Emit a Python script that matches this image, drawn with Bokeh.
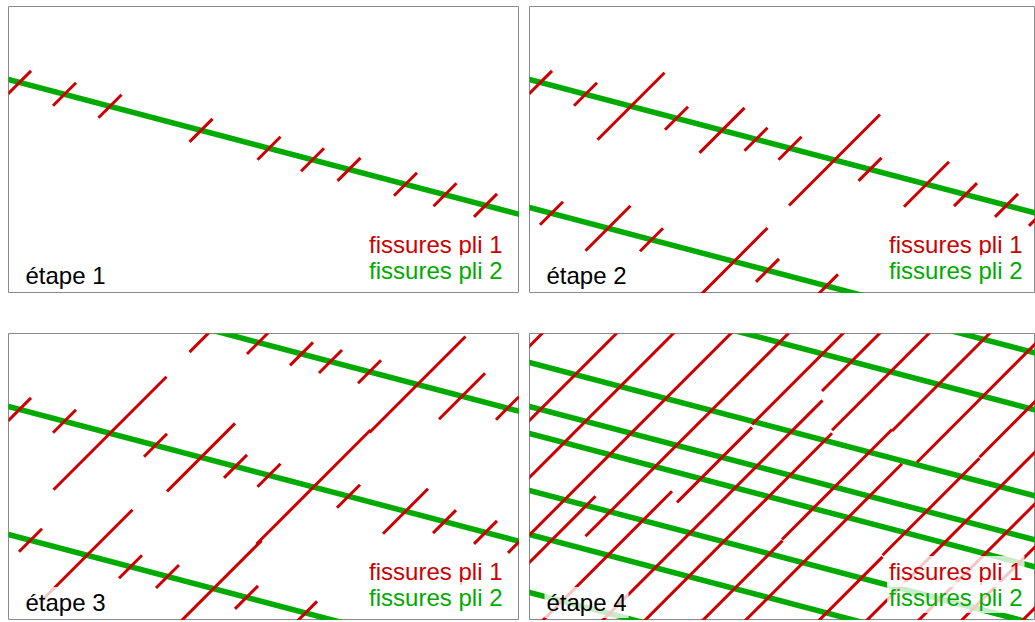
from bokeh.plotting import figure
from bokeh.layouts import row, column
from bokeh.models import Range1d, Label
from bokeh.embed import file_html
from bokeh.resources import INLINE

RED = "#cc0000"
GREEN = "#00aa00"
FONT = "Liberation Sans"

# ---- data (panel units = px inside each frame, y measured downwards) ----
ply2_slope = 0.264  # common slope of the ply-2 cracks

# ply-2 cracks (green): intercept at left edge, per stage
stage1_ply2 = [73]
stage2_ply2 = [73, 201]
stage3_ply2 = [-57, 73, 201]
stage4_ply2 = [-114, -57, 29, 73, 100, 157, 201, 259]

# ply-1 cracks (red, 45 deg): host ply-2 crack, position along it, extent down / up
stage1_host = [73] * 10
stage1_pos = [11, 56, 101.5, 192.5, 260.5, 304, 340.5, 397, 436.5, 477]
stage1_down = [11.5] * 10
stage1_up = [11.5] * 10

stage2_host = [73] * 13 + [201] * 6
stage2_pos = [11, 56, 101.5, 147, 192.5, 226.5, 260.5, 305, 340.5, 397, 436, 477, 511,
              22, 78.5, 122, 204.5, 238, 297]
stage2_down = [11.5, 11.5, 33.5, 11.5, 22.5, 11.5, 11.5, 45.5, 11.5, 22.5, 11.5, 11.5, 11.5,
               11.5, 22.5, 11.5, 33.5, 11.5, 11.5]
stage2_up = stage2_down

stage3_host = [-57] * 8 + [73] * 13 + [201] * 7
stage3_pos = [203, 250, 293, 322, 361, 409, 453.5, 499,
              11, 56, 101.5, 147, 192.5, 227, 260.5, 305, 340, 397, 436, 477, 511,
              22, 78.5, 122, 159, 205, 238, 297]
stage3_down = [22, 11.5, 11.5, 11.5, 11.5, 48, 23, 11.5,
               11.5, 11.5, 56.5, 11.5, 34, 11.5, 11.5, 57, 11.5, 22.5, 11.5, 11.5, 11.5,
               11.5, 45.5, 11.5, 11.5, 48, 11.5, 11.5]
stage3_up = stage3_down

stage4_host = [-57, 73, 73, 73, 201, 73, 201, 73, -57, 73, -57, 73, -57,
               201, 73, -57, 73, -57, 201, 73, -57, 73, 73, 73, 201]
stage4_pos = [55, 11, 56, 101.5, 22, 147, 78.5, 192.5, 293, 227, 322, 260.5, 361,
              205, 305, 409, 340, 453.5, 297, 397, 499, 436, 477, 511, 458]
stage4_down = [60, 20, 60, 105, 25, 91, 70, 45, 70.5, 160, 29.5, 146, 58.5,
               40, 52.5, 46.5, 125, 66, 12, 44, 49, 105, 90, 85, 20]
stage4_up = [5, 80, 95, 102, 44, 115, 64, 30, 25, 66, 32, 42, 42,
             48, 57.5, 55, 32.5, 60, 56, 53, 20, 75, 35, 5, 50]

stage_labels = ["étape 1", "étape 2", "étape 3", "étape 4"]
legend_texts = ["fissures pli 1", "fissures pli 2"]

PANEL_H = 287


def make_panel(width, ply2, host, pos, down, up, label, legend_x):
    p = figure(width=width, height=PANEL_H,
               x_range=Range1d(0, width), y_range=Range1d(PANEL_H, 0),
               x_axis_type=None, y_axis_type=None,
               output_backend="svg", toolbar_location=None, min_border=0)
    p.grid.visible = False
    p.outline_line_color = "#8a8a8a"
    p.outline_line_width = 1
    p.background_fill_color = "white"
    p.border_fill_color = "white"

    # green ply-2 cracks, spanning the whole frame
    x0 = [-30] * len(ply2)
    x1 = [width + 30] * len(ply2)
    y0 = [b + ply2_slope * (-30) for b in ply2]
    y1 = [b + ply2_slope * (width + 30) for b in ply2]
    p.segment(x0=x0, y0=y0, x1=x1, y1=y1, line_color=GREEN, line_width=5.5)

    # red ply-1 cracks at 45 degrees, centred on a ply-2 crack
    yc = [b + ply2_slope * xp for b, xp in zip(host, pos)]
    rx0 = [xp - d for xp, d in zip(pos, down)]
    ry0 = [y + d for y, d in zip(yc, down)]
    rx1 = [xp + u for xp, u in zip(pos, up)]
    ry1 = [y - u for y, u in zip(yc, up)]
    p.segment(x0=rx0, y0=ry0, x1=rx1, y1=ry1, line_color=RED, line_width=3)

    bg = dict(background_fill_color="white", background_fill_alpha=0.78, padding=2)
    p.add_layout(Label(x=15, y=269, text=label, text_font=FONT, text_font_size="24px",
                       text_color="black", text_align="left", text_baseline="alphabetic", **bg))
    p.add_layout(Label(x=legend_x, y=238, text=legend_texts[0], text_font=FONT,
                       text_font_size="24px", text_color=RED, text_align="right",
                       text_baseline="alphabetic", **bg))
    p.add_layout(Label(x=legend_x, y=264, text=legend_texts[1], text_font=FONT,
                       text_font_size="24px", text_color=GREEN, text_align="right",
                       text_baseline="alphabetic", **bg))
    return p


p1 = make_panel(511, stage1_ply2, stage1_host, stage1_pos, stage1_down, stage1_up,
                stage_labels[0], 496)
p2 = make_panel(506, stage2_ply2, stage2_host, stage2_pos, stage2_down, stage2_up,
                stage_labels[1], 495)
p3 = make_panel(511, stage3_ply2, stage3_host, stage3_pos, stage3_down, stage3_up,
                stage_labels[2], 496)
p4 = make_panel(506, stage4_ply2, stage4_host, stage4_pos, stage4_down, stage4_up,
                stage_labels[3], 495)

layout = column(row(p1, p2, spacing=10), row(p3, p4, spacing=10), spacing=40,
                styles={"margin-top": "6px", "margin-left": "8px"})

open("out.html", "w").write(file_html(layout, INLINE))
